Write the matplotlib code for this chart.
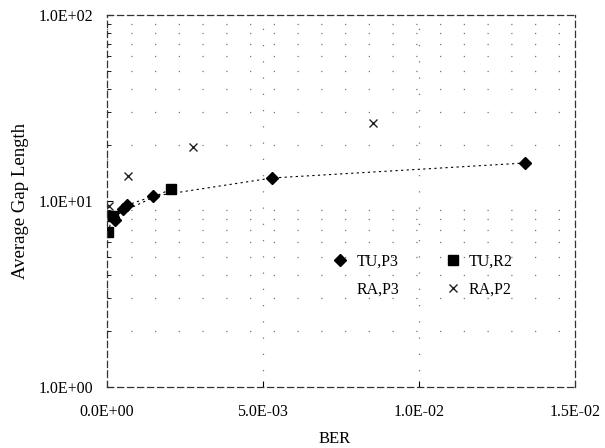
import matplotlib
matplotlib.use("Agg")
import matplotlib.pyplot as plt
from matplotlib.ticker import LogLocator, NullFormatter

# Data (BER, Average Gap Length)
tu_p3_x = [0.19e-3, 0.26e-3, 0.51e-3, 0.64e-3, 1.47e-3, 5.3e-3, 13.4e-3]
tu_p3_y = [8.2, 7.9, 9.1, 9.5, 10.6, 13.3, 16.0]
tu_r2_x = [0.02e-3, 0.2e-3, 2.05e-3]
tu_r2_y = [6.8, 8.3, 11.6]
ra_p3_x = []
ra_p3_y = []
ra_p2_x = [0.06e-3, 0.67e-3, 2.76e-3, 8.53e-3]
ra_p2_y = [9.4, 13.6, 19.5, 26.4]

x_ticks = [0.0, 5.0e-3, 1.0e-2, 1.5e-2]
x_tick_labels = ["0.0E+00", "5.0E-03", "1.0E-02", "1.5E-02"]
y_ticks = [1, 10, 100]
y_tick_labels = ["1.0E+00", "1.0E+01", "1.0E+02"]

plt.rcParams['font.family'] = ['Liberation Serif', 'DejaVu Serif']

fig = plt.figure(figsize=(6.05, 4.48), dpi=100)
ax = fig.add_axes([0.177, 0.1362, 0.773, 0.8303])

ax.set_yscale('log')
ax.set_xlim(0, 1.5e-2)
ax.set_ylim(1, 100)

# grid
ax.yaxis.set_minor_locator(LogLocator(base=10, subs=range(2, 10)))
ax.yaxis.set_minor_formatter(NullFormatter())
ax.grid(True, which='minor', axis='y', color='#777777', linestyle=(0, (1, 18)), linewidth=0.9)
ax.grid(True, which='major', axis='x', color='#777777', linestyle=(0, (1, 12)), linewidth=0.9)

ax.plot(tu_p3_x, tu_p3_y, linestyle=(0, (2, 3)), color='black', linewidth=0.8,
        marker='D', markersize=6, markerfacecolor='black', markeredgecolor='black', label='TU,P3')
ax.plot(ra_p3_x, ra_p3_y, linestyle='none', marker='none', color='black', label='RA,P3')
ax.plot(tu_r2_x, tu_r2_y, linestyle=(0, (2, 3)), color='black', linewidth=0.8,
        marker='s', markersize=6.5, markerfacecolor='black', markeredgecolor='black', label='TU,R2')
ax.plot(ra_p2_x, ra_p2_y, linestyle='none', color='#222222',
        marker='x', markersize=6, markeredgewidth=1.0, label='RA,P2')

ax.set_xticks(x_ticks)
ax.set_xticklabels(x_tick_labels)
ax.set_yticks(y_ticks)
ax.set_yticklabels(y_tick_labels)
ax.tick_params(axis='both', which='major', labelsize=11.5, direction='in', length=4, pad=10, colors='black')
ax.tick_params(axis='y', which='minor', direction='in', length=3)
ax.tick_params(axis='x', which='major', pad=12)

for s in ax.spines.values():
    s.set_linestyle((0, (5, 3)))
    s.set_linewidth(0.9)
    s.set_color('#333333')

ax.set_xlabel('BER', fontsize=12)
ax.xaxis.set_label_coords(0.487, -0.118)
ax.set_ylabel('Average Gap Length', fontsize=13.5)
ax.yaxis.set_label_coords(-0.167, 0.5)

leg = ax.legend(ncol=2, loc='upper left', bbox_to_anchor=(0.4595, 0.376), borderaxespad=0,
                frameon=False, fontsize=11.5, handlelength=1.5, handletextpad=0.25,
                columnspacing=2.6, labelspacing=0.75)
for h in leg.get_lines():
    h.set_linestyle('none')

fig.savefig('out.png', dpi=100)
